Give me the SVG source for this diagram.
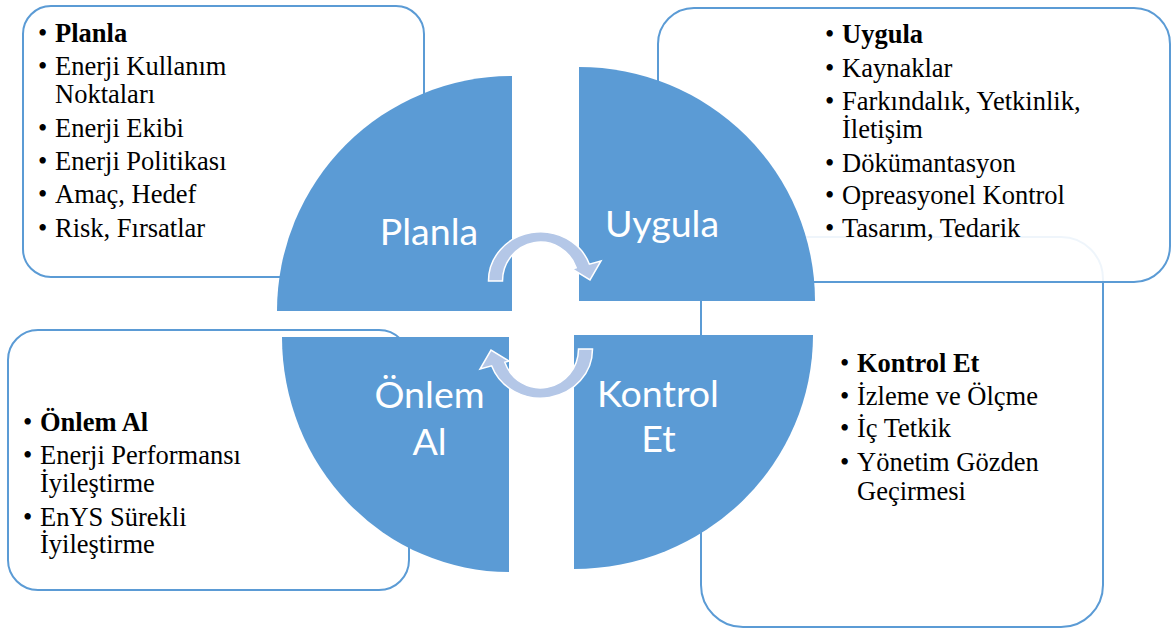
<svg xmlns="http://www.w3.org/2000/svg" width="1171" height="628" viewBox="0 0 1171 628">
<style>
.box{fill:#ffffff;stroke:#5B9BD5;stroke-width:2}
.q{fill:#5B9BD5}
.arr{fill:#B4C7E7;stroke:#ffffff;stroke-width:1.5}
.ql{font-family:Lato,"Liberation Sans",sans-serif;font-size:37.5px;fill:#ffffff;text-anchor:middle}
text.t{font-family:"Liberation Serif",serif;font-size:26.5px;fill:#000000}
text.b{font-weight:bold}
</style>
<rect width="1171" height="628" fill="#ffffff"/>
<g id="box-planla"><rect class="box" x="23" y="6" width="401" height="271" rx="28"/></g>
<g id="box-onlem"><rect class="box" x="8" y="330" width="401" height="260" rx="30"/></g>
<g id="box-kontrol"><rect class="box" x="701" y="237" width="402" height="390" rx="42"/></g>
<g id="box-uygula"><rect class="box" x="658" y="8" width="512" height="274" rx="36" fill-opacity="0.9"/></g>

<g id="q-planla"><path class="q" d="M512 311 L277 311 A235 235 0 0 1 512 76 Z"/><text class="ql" x="429" y="245">Planla</text></g>
<g id="q-uygula"><path class="q" d="M579 301 L579 67 A236 234 0 0 1 815 301 Z"/><text class="ql" x="662" y="237">Uygula</text></g>
<g id="q-onlem"><path class="q" d="M509 337 L509 572 A227 235 0 0 1 282 337 Z"/><text class="ql" x="429.5" y="408">Önlem</text><text class="ql" x="429.5" y="455">Al</text></g>
<g id="q-kontrol"><path class="q" d="M574 335 L813 335 A239 234 0 0 1 574 569 Z"/><text class="ql" x="658" y="407">Kontrol</text><text class="ql" x="658.5" y="452">Et</text></g>

<g id="connectors">
<path class="arr" d="M488.5 281 A52 49 0 0 1 589.4 264.2 L601 261 L590 280 L572 269 L576.2 267.7 A38 39 0 0 0 502.5 281 Z"/>
<path class="arr" transform="rotate(180 540.5 315)" d="M488.5 281 A52 49 0 0 1 589.4 264.2 L601 261 L590 280 L572 269 L576.2 267.7 A38 39 0 0 0 502.5 281 Z"/>
</g>

<g id="text-planla">
<text class="t" x="38" y="42">•</text><text class="t b" x="55" y="42">Planla</text>
<text class="t" x="38" y="75">•</text><text class="t" x="55" y="75">Enerji Kullanım</text>
<text class="t" x="55" y="103">Noktaları</text>
<text class="t" x="38" y="137">•</text><text class="t" x="55" y="137">Enerji Ekibi</text>
<text class="t" x="38" y="170">•</text><text class="t" x="55" y="170">Enerji Politikası</text>
<text class="t" x="38" y="203">•</text><text class="t" x="55" y="203">Amaç, Hedef</text>
<text class="t" x="38" y="237">•</text><text class="t" x="55" y="237">Risk, Fırsatlar</text>
</g>
<g id="text-uygula">
<text class="t" x="825" y="43">•</text><text class="t b" x="842" y="43">Uygula</text>
<text class="t" x="825" y="77">•</text><text class="t" x="842" y="77">Kaynaklar</text>
<text class="t" x="825" y="110">•</text><text class="t" x="842" y="110">Farkındalık, Yetkinlik,</text>
<text class="t" x="842" y="138">İletişim</text>
<text class="t" x="825" y="172">•</text><text class="t" x="842" y="172">Dökümantasyon</text>
<text class="t" x="825" y="204">•</text><text class="t" x="842" y="204">Opreasyonel Kontrol</text>
<text class="t" x="825" y="237">•</text><text class="t" x="842" y="237">Tasarım, Tedarik</text>
</g>
<g id="text-onlem">
<text class="t" x="23" y="431">•</text><text class="t b" x="40" y="431">Önlem Al</text>
<text class="t" x="23" y="464">•</text><text class="t" x="40" y="464">Enerji Performansı</text>
<text class="t" x="40" y="492">İyileştirme</text>
<text class="t" x="23" y="526">•</text><text class="t" x="40" y="526">EnYS Sürekli</text>
<text class="t" x="40" y="553">İyileştirme</text>
</g>
<g id="text-kontrol">
<text class="t" x="840" y="372">•</text><text class="t b" x="857" y="372">Kontrol Et</text>
<text class="t" x="840" y="405">•</text><text class="t" x="857" y="405">İzleme ve Ölçme</text>
<text class="t" x="840" y="437">•</text><text class="t" x="857" y="437">İç Tetkik</text>
<text class="t" x="840" y="471">•</text><text class="t" x="857" y="471">Yönetim Gözden</text>
<text class="t" x="857" y="500">Geçirmesi</text>
</g>
</svg>
